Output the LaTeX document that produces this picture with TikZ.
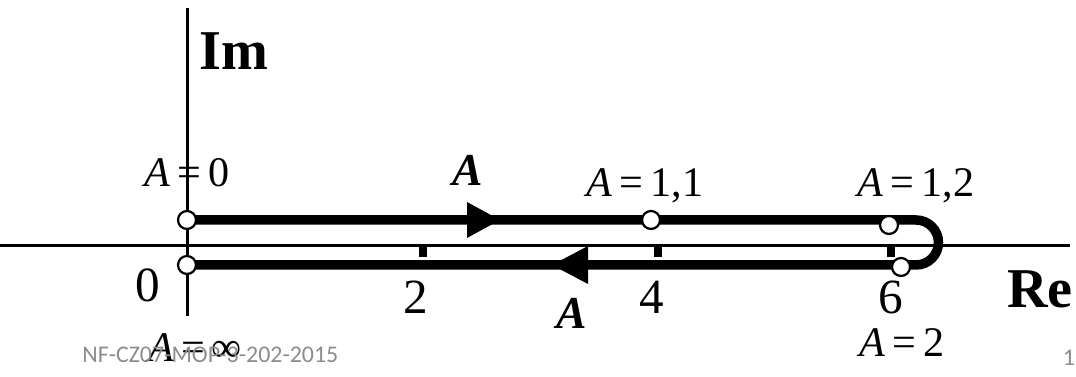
\documentclass[tikz,border=0pt]{standalone}
\usepackage{fontspec}
\setmainfont{Liberation Serif}
\newfontfamily\footfont{Carlito}
\usetikzlibrary{calc}
\definecolor{footgray}{HTML}{8C8C8C}

\begin{document}
\begin{tikzpicture}[
  x=0.02cm, y=-0.02cm,
  axisline/.style={line width=0.06cm},
  axtick/.style={line width=0.16cm},
  contour/.style={line width=0.19cm},
  valpt/.style={circle, draw, fill=white, line width=0.045cm, minimum size=0.36cm, inner sep=0pt},
  vallbl/.style={font=\fontsize{24}{28}\selectfont, inner sep=0pt},
  numlbl/.style={font=\fontsize{28}{32}\selectfont, inner sep=0pt},
  axlbl/.style={font=\fontsize{32}{36}\selectfont\bfseries, inner sep=0pt},
  dirlbl/.style={font=\fontsize{26}{30}\selectfont\bfseries\itshape, inner sep=0pt},
  footlbl/.style={font=\footfont\fontsize{13.6}{16}\selectfont, text=footgray, inner sep=0pt},
]

\useasboundingbox (0,0) rectangle (1076,377);

% === Axes ===
\coordinate (rew) at (0,246);
\coordinate (ree) at (1070,246);
\coordinate (imn) at (187,8);
\coordinate (ims) at (187,316);
\draw[axisline] (rew) -- (ree);
\draw[axisline] (ims) -- (imn);

\node[axlbl] (im) at (234,51) {Im};
\node[axlbl] (re) at (1040,289) {Re};

% Ticks and numbers
\foreach \x in {423, 658, 891}
  \draw[axtick] (\x,246) -- (\x,257);
\node[numlbl] (n0) at (148,285) {0};
\node[numlbl] (n2) at (416,297) {2};
\node[numlbl] (n4) at (652,297) {4};
\node[numlbl] (n6) at (891,297) {6};

% === Contour ===
\coordinate (ts) at (187,220);
\coordinate (te) at (916,220);
\coordinate (bs) at (187,265);
\draw[contour] (ts) -- (te) arc[start angle=90, end angle=-90, radius=0.45cm] -- (bs);

% direction triangles
\fill ($(ts)+(280,-18)$) -- ($(ts)+(313,0)$) -- ($(ts)+(280,18)$) -- cycle;
\fill ($(bs)+(401,-19)$) -- ($(bs)+(365,0)$) -- ($(bs)+(401,19)$) -- cycle;
\node[dirlbl] (dtop) at (468,170) {A};
\node[dirlbl] (dbot) at (572,313) {A};

% === Points on the contour ===
\node[valpt] (p0) at (187,220) {};
\node[valpt] (pinf) at (187,265) {};
\node[valpt] (p11) at (651,220) {};
\node[valpt] (p12) at (889,225) {};
\node[valpt] (p2) at (901,267) {};

\node[vallbl, anchor=base] (l0) at (187,187) {\textit{A}\,=\,0};
\node[vallbl, anchor=base] (l11) at (645,197) {\textit{A}\,=\,1,1};
\node[vallbl, anchor=base] (l12) at (916,197) {\textit{A}\,=\,1,2};
\node[vallbl, anchor=base] (linf) at (195,362) {\textit{A}\,=\,∞};
\node[vallbl, anchor=base] (l2) at (902,357) {\textit{A}\,=\,2};

% === Footer ===
\node[footlbl, anchor=base west] (foot) at (82,363) {NF-CZ07-MOP-3-202-2015};
\node[footlbl, anchor=base] (pgnum) at (1069,366) {1};

\end{tikzpicture}
\end{document}
